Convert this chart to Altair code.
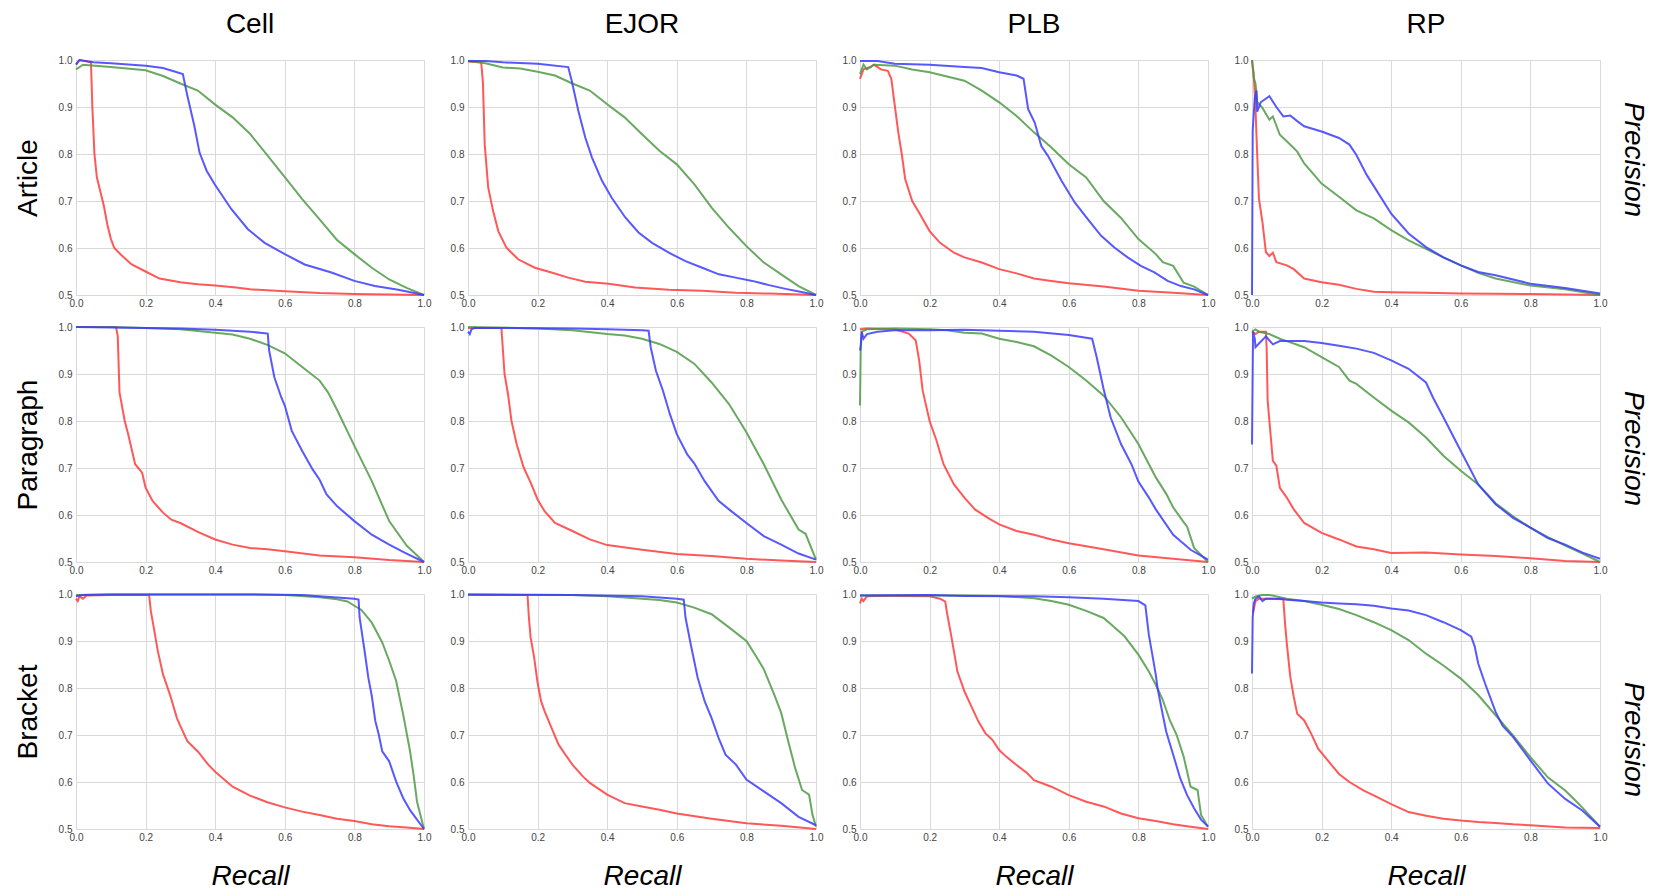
import altair as alt
import pandas as pd

# ---------------- data: (recall, precision) pairs ----------------
columns = ["Cell", "EJOR", "PLB", "RP"]
rows = ["Article", "Paragraph", "Bracket"]
series = ["red", "green", "blue"]
series_colors = ["#ff3b3b", "#4f9a45", "#3b3bff"]
x_ticks = [0.0, 0.2, 0.4, 0.6, 0.8, 1.0]
y_ticks = [0.5, 0.6, 0.7, 0.8, 0.9, 1.0]

# Article row
article_cell_red = [(0,0.99),(0.01,1.0),(0.043,0.995),(0.047,0.9),(0.053,0.8),(0.06,0.75),(0.07,0.72),(0.08,0.69),(0.09,0.65),(0.1,0.62),(0.11,0.6),(0.13,0.585),(0.16,0.565),(0.2,0.55),(0.24,0.535),(0.3,0.527),(0.35,0.523),(0.4,0.52),(0.46,0.516),(0.5,0.512),(0.6,0.508),(0.7,0.504),(0.8,0.502),(0.9,0.501),(1.0,0.5)]
article_cell_blue = [(0,0.99),(0.01,1.0),(0.05,0.995),(0.1,0.993),(0.2,0.988),(0.25,0.983),(0.307,0.97),(0.32,0.924),(0.34,0.86),(0.355,0.803),(0.375,0.765),(0.398,0.736),(0.446,0.683),(0.494,0.64),(0.542,0.611),(0.6,0.587),(0.657,0.565),(0.734,0.548),(0.8,0.53),(0.859,0.519),(0.926,0.511),(1.0,0.5)]
article_cell_green = [(0,0.98),(0.02,0.99),(0.1,0.985),(0.2,0.978),(0.25,0.966),(0.3,0.95),(0.35,0.935),(0.4,0.905),(0.45,0.878),(0.5,0.843),(0.55,0.797),(0.6,0.751),(0.65,0.704),(0.7,0.661),(0.75,0.617),(0.8,0.587),(0.85,0.558),(0.9,0.533),(0.95,0.515),(1.0,0.5)]

article_ejor_red = [(0,0.997),(0.038,0.995),(0.043,0.95),(0.048,0.821),(0.058,0.729),(0.072,0.679),(0.087,0.636),(0.11,0.601),(0.144,0.576),(0.192,0.558),(0.24,0.548),(0.288,0.537),(0.337,0.528),(0.404,0.524),(0.48,0.516),(0.577,0.511),(0.673,0.509),(0.769,0.505),(0.865,0.503),(1.0,0.5)]
article_ejor_blue = [(0,0.998),(0.05,0.998),(0.1,0.995),(0.2,0.992),(0.288,0.985),(0.298,0.956),(0.317,0.892),(0.337,0.835),(0.356,0.793),(0.385,0.743),(0.413,0.707),(0.452,0.665),(0.49,0.633),(0.529,0.611),(0.577,0.59),(0.625,0.572),(0.673,0.558),(0.721,0.544),(0.769,0.537),(0.817,0.53),(0.865,0.521),(0.913,0.513),(0.962,0.506),(1.0,0.5)]
article_ejor_green = [(0,0.998),(0.05,0.993),(0.1,0.984),(0.15,0.982),(0.2,0.975),(0.25,0.967),(0.3,0.95),(0.35,0.935),(0.4,0.906),(0.45,0.878),(0.5,0.842),(0.55,0.807),(0.6,0.778),(0.65,0.736),(0.7,0.686),(0.75,0.643),(0.8,0.604),(0.85,0.569),(0.9,0.544),(0.95,0.519),(1.0,0.5)]

article_plb_red = [(0,0.96),(0.01,0.98),(0.03,0.985),(0.04,0.99),(0.06,0.98),(0.08,0.977),(0.09,0.96),(0.1,0.903),(0.11,0.846),(0.12,0.8),(0.13,0.746),(0.15,0.7),(0.17,0.675),(0.2,0.636),(0.23,0.611),(0.27,0.59),(0.3,0.58),(0.35,0.569),(0.4,0.555),(0.45,0.546),(0.5,0.535),(0.55,0.53),(0.6,0.525),(0.7,0.518),(0.8,0.509),(0.9,0.505),(1.0,0.5)]
article_plb_blue = [(0,0.998),(0.05,0.998),(0.1,0.992),(0.2,0.99),(0.3,0.985),(0.35,0.983),(0.4,0.974),(0.45,0.967),(0.47,0.96),(0.483,0.896),(0.502,0.867),(0.521,0.817),(0.54,0.796),(0.579,0.743),(0.617,0.697),(0.655,0.661),(0.693,0.626),(0.731,0.601),(0.769,0.58),(0.807,0.562),(0.846,0.548),(0.884,0.53),(0.922,0.519),(0.96,0.512),(1.0,0.5)]
article_plb_green = [(0,0.97),(0.01,0.99),(0.02,0.98),(0.04,0.99),(0.1,0.988),(0.15,0.98),(0.2,0.974),(0.25,0.965),(0.3,0.956),(0.35,0.935),(0.4,0.91),(0.45,0.881),(0.5,0.846),(0.55,0.814),(0.6,0.778),(0.65,0.75),(0.7,0.7),(0.75,0.664),(0.8,0.619),(0.85,0.587),(0.87,0.57),(0.9,0.562),(0.93,0.526),(0.96,0.518),(1.0,0.5)]

article_rp_red = [(0,1.0),(0.005,0.97),(0.01,0.898),(0.015,0.798),(0.02,0.705),(0.03,0.655),(0.04,0.591),(0.05,0.583),(0.06,0.59),(0.07,0.57),(0.1,0.563),(0.12,0.555),(0.15,0.535),(0.2,0.527),(0.25,0.522),(0.3,0.513),(0.35,0.507),(0.4,0.506),(0.5,0.505),(0.6,0.503),(0.8,0.502),(1.0,0.5)]
article_rp_blue = [(0,0.5),(0.002,0.85),(0.008,0.92),(0.013,0.935),(0.015,0.89),(0.025,0.91),(0.05,0.923),(0.07,0.9),(0.09,0.88),(0.11,0.882),(0.13,0.87),(0.15,0.859),(0.2,0.848),(0.25,0.834),(0.28,0.82),(0.3,0.798),(0.33,0.755),(0.36,0.72),(0.4,0.673),(0.45,0.631),(0.5,0.602),(0.55,0.58),(0.6,0.563),(0.65,0.549),(0.7,0.542),(0.8,0.524),(0.9,0.515),(1.0,0.503)]
article_rp_green = [(0,1.0),(0.005,0.962),(0.01,0.95),(0.015,0.91),(0.03,0.898),(0.05,0.873),(0.06,0.88),(0.08,0.841),(0.1,0.827),(0.13,0.805),(0.15,0.78),(0.2,0.737),(0.25,0.709),(0.3,0.68),(0.35,0.663),(0.4,0.638),(0.45,0.616),(0.5,0.598),(0.55,0.58),(0.6,0.563),(0.65,0.547),(0.7,0.535),(0.8,0.52),(0.9,0.512),(1.0,0.5)]

# Paragraph row
paragraph_cell_red = [(0,1.0),(0.115,1.0),(0.12,0.98),(0.125,0.861),(0.14,0.8),(0.15,0.772),(0.17,0.708),(0.19,0.69),(0.2,0.658),(0.22,0.63),(0.25,0.605),(0.274,0.59),(0.3,0.583),(0.35,0.564),(0.4,0.548),(0.45,0.537),(0.5,0.53),(0.55,0.527),(0.6,0.523),(0.7,0.514),(0.8,0.51),(0.9,0.504),(1.0,0.5)]
paragraph_cell_blue = [(0,1.0),(0.2,0.998),(0.3,0.997),(0.4,0.994),(0.5,0.99),(0.551,0.986),(0.555,0.95),(0.57,0.893),(0.59,0.85),(0.6,0.833),(0.62,0.779),(0.65,0.736),(0.68,0.697),(0.7,0.675),(0.72,0.644),(0.75,0.619),(0.8,0.587),(0.85,0.558),(0.9,0.537),(0.95,0.518),(1.0,0.5)]
paragraph_cell_green = [(0,1.0),(0.1,1.0),(0.2,0.998),(0.3,0.995),(0.4,0.988),(0.45,0.984),(0.5,0.975),(0.55,0.962),(0.6,0.944),(0.65,0.915),(0.7,0.886),(0.725,0.86),(0.75,0.824),(0.8,0.747),(0.85,0.672),(0.9,0.587),(0.95,0.535),(1.0,0.5)]

paragraph_ejor_red = [(0,0.998),(0.096,0.998),(0.105,0.9),(0.115,0.857),(0.125,0.8),(0.14,0.75),(0.16,0.701),(0.18,0.669),(0.2,0.633),(0.22,0.608),(0.25,0.583),(0.3,0.566),(0.35,0.548),(0.4,0.536),(0.5,0.526),(0.6,0.517),(0.7,0.513),(0.8,0.507),(0.9,0.503),(1.0,0.5)]
paragraph_ejor_blue = [(0,0.99),(0.005,0.985),(0.01,0.995),(0.02,0.998),(0.1,0.998),(0.3,0.997),(0.4,0.995),(0.5,0.993),(0.519,0.992),(0.525,0.957),(0.54,0.907),(0.56,0.865),(0.58,0.815),(0.6,0.772),(0.63,0.729),(0.65,0.71),(0.68,0.672),(0.72,0.63),(0.75,0.612),(0.8,0.583),(0.85,0.555),(0.9,0.537),(0.95,0.518),(1.0,0.505)]
paragraph_ejor_green = [(0,1.0),(0.2,0.997),(0.3,0.993),(0.4,0.985),(0.45,0.982),(0.5,0.975),(0.55,0.964),(0.6,0.947),(0.65,0.922),(0.7,0.882),(0.75,0.836),(0.8,0.776),(0.85,0.708),(0.9,0.633),(0.95,0.569),(0.97,0.56),(1.0,0.505)]

paragraph_plb_red = [(0,0.995),(0.02,0.997),(0.1,0.995),(0.14,0.986),(0.16,0.972),(0.17,0.929),(0.18,0.865),(0.2,0.8),(0.22,0.758),(0.24,0.708),(0.27,0.665),(0.3,0.637),(0.33,0.612),(0.37,0.593),(0.4,0.58),(0.45,0.566),(0.5,0.558),(0.55,0.548),(0.6,0.54),(0.7,0.527),(0.8,0.514),(0.9,0.507),(1.0,0.5)]
paragraph_plb_blue = [(0,0.95),(0.002,0.96),(0.005,0.99),(0.01,0.975),(0.02,0.985),(0.05,0.99),(0.1,0.993),(0.2,0.993),(0.3,0.994),(0.4,0.992),(0.5,0.99),(0.6,0.983),(0.65,0.977),(0.667,0.975),(0.68,0.936),(0.7,0.868),(0.72,0.808),(0.75,0.751),(0.78,0.708),(0.8,0.671),(0.83,0.637),(0.85,0.612),(0.9,0.558),(0.95,0.526),(1.0,0.505)]
paragraph_plb_green = [(0,0.833),(0.002,0.95),(0.005,0.99),(0.02,0.995),(0.1,0.997),(0.2,0.995),(0.25,0.993),(0.3,0.988),(0.35,0.986),(0.4,0.975),(0.45,0.968),(0.5,0.959),(0.55,0.939),(0.6,0.915),(0.65,0.886),(0.7,0.854),(0.75,0.808),(0.8,0.751),(0.85,0.68),(0.88,0.645),(0.9,0.616),(0.93,0.585),(0.94,0.575),(0.96,0.53),(1.0,0.5)]

paragraph_rp_red = [(0,0.99),(0.01,0.985),(0.02,0.99),(0.04,0.99),(0.042,0.957),(0.045,0.843),(0.05,0.8),(0.06,0.715),(0.07,0.705),(0.08,0.658),(0.1,0.637),(0.12,0.612),(0.15,0.583),(0.2,0.562),(0.25,0.548),(0.3,0.533),(0.35,0.527),(0.4,0.519),(0.5,0.52),(0.6,0.516),(0.7,0.513),(0.8,0.508),(0.9,0.502),(1.0,0.5)]
paragraph_rp_blue = [(0,0.75),(0.003,0.99),(0.008,0.975),(0.01,0.957),(0.02,0.965),(0.04,0.98),(0.06,0.963),(0.08,0.97),(0.15,0.97),(0.2,0.966),(0.25,0.96),(0.3,0.954),(0.35,0.945),(0.4,0.929),(0.45,0.911),(0.5,0.882),(0.52,0.85),(0.55,0.808),(0.6,0.736),(0.65,0.665),(0.7,0.623),(0.75,0.594),(0.8,0.573),(0.85,0.551),(0.9,0.537),(0.95,0.52),(1.0,0.507)]
paragraph_rp_green = [(0,0.99),(0.01,0.995),(0.02,0.99),(0.05,0.985),(0.08,0.975),(0.1,0.97),(0.15,0.957),(0.2,0.936),(0.25,0.915),(0.28,0.886),(0.3,0.879),(0.35,0.85),(0.4,0.822),(0.45,0.797),(0.5,0.765),(0.55,0.726),(0.6,0.694),(0.65,0.665),(0.7,0.625),(0.75,0.597),(0.8,0.573),(0.85,0.553),(0.9,0.535),(0.95,0.518),(1.0,0.5)]

# Bracket row
bracket_cell_red = [(0,0.99),(0.005,0.985),(0.01,0.995),(0.02,0.99),(0.03,0.997),(0.1,0.998),(0.21,0.998),(0.215,0.964),(0.225,0.922),(0.235,0.879),(0.25,0.829),(0.27,0.786),(0.29,0.736),(0.3,0.719),(0.32,0.687),(0.35,0.665),(0.38,0.637),(0.4,0.622),(0.45,0.59),(0.5,0.571),(0.55,0.557),(0.6,0.546),(0.65,0.537),(0.7,0.53),(0.75,0.522),(0.8,0.517),(0.85,0.51),(0.9,0.506),(0.95,0.503),(1.0,0.5)]
bracket_cell_blue = [(0,0.995),(0.02,0.998),(0.1,0.999),(0.5,0.999),(0.65,0.998),(0.7,0.995),(0.8,0.99),(0.812,0.988),(0.815,0.95),(0.83,0.875),(0.84,0.822),(0.85,0.783),(0.86,0.73),(0.87,0.701),(0.88,0.665),(0.9,0.644),(0.92,0.601),(0.94,0.566),(0.96,0.54),(0.98,0.52),(1.0,0.5)]
bracket_cell_green = [(0,0.998),(0.1,0.999),(0.5,0.999),(0.6,0.998),(0.7,0.993),(0.75,0.989),(0.78,0.984),(0.8,0.975),(0.82,0.966),(0.85,0.939),(0.88,0.897),(0.9,0.858),(0.92,0.815),(0.94,0.744),(0.96,0.665),(0.97,0.615),(0.98,0.558),(1.0,0.5)]

bracket_ejor_red = [(0,0.998),(0.171,0.998),(0.175,0.95),(0.18,0.907),(0.19,0.865),(0.2,0.811),(0.21,0.772),(0.22,0.751),(0.24,0.715),(0.26,0.68),(0.28,0.658),(0.3,0.637),(0.33,0.612),(0.35,0.598),(0.4,0.573),(0.45,0.555),(0.5,0.548),(0.55,0.541),(0.6,0.533),(0.7,0.522),(0.8,0.512),(0.9,0.507),(1.0,0.5)]
bracket_ejor_blue = [(0,0.999),(0.3,0.998),(0.5,0.995),(0.6,0.99),(0.62,0.988),(0.625,0.95),(0.64,0.893),(0.66,0.822),(0.68,0.772),(0.7,0.736),(0.72,0.694),(0.74,0.658),(0.77,0.637),(0.8,0.605),(0.85,0.58),(0.9,0.555),(0.95,0.526),(1.0,0.508)]
bracket_ejor_green = [(0,0.999),(0.3,0.998),(0.4,0.995),(0.5,0.99),(0.55,0.987),(0.6,0.982),(0.65,0.971),(0.7,0.957),(0.75,0.929),(0.8,0.9),(0.83,0.865),(0.85,0.84),(0.88,0.786),(0.9,0.747),(0.92,0.687),(0.94,0.63),(0.96,0.583),(0.98,0.573),(0.99,0.53),(1.0,0.505)]

bracket_plb_red = [(0,0.98),(0.005,0.99),(0.01,0.985),(0.02,0.995),(0.05,0.996),(0.1,0.996),(0.2,0.995),(0.23,0.99),(0.245,0.984),(0.25,0.96),(0.26,0.92),(0.27,0.878),(0.28,0.835),(0.3,0.793),(0.32,0.761),(0.34,0.729),(0.36,0.704),(0.38,0.69),(0.4,0.668),(0.42,0.654),(0.45,0.636),(0.48,0.619),(0.5,0.604),(0.55,0.59),(0.6,0.572),(0.65,0.558),(0.7,0.548),(0.75,0.533),(0.8,0.523),(0.85,0.517),(0.9,0.51),(0.95,0.505),(1.0,0.5)]
bracket_plb_blue = [(0,0.997),(0.2,0.998),(0.3,0.996),(0.5,0.995),(0.6,0.993),(0.7,0.99),(0.8,0.985),(0.82,0.976),(0.83,0.913),(0.84,0.871),(0.85,0.828),(0.855,0.8),(0.87,0.743),(0.88,0.707),(0.9,0.658),(0.92,0.608),(0.94,0.572),(0.96,0.544),(0.98,0.52),(1.0,0.505)]
bracket_plb_green = [(0,0.997),(0.3,0.997),(0.4,0.996),(0.5,0.991),(0.55,0.985),(0.6,0.977),(0.65,0.964),(0.7,0.949),(0.73,0.93),(0.76,0.91),(0.8,0.871),(0.83,0.835),(0.85,0.807),(0.87,0.775),(0.89,0.732),(0.91,0.7),(0.93,0.654),(0.95,0.59),(0.97,0.583),(0.98,0.53),(1.0,0.505)]

bracket_rp_red = [(0.003,0.96),(0.01,0.985),(0.02,0.99),(0.05,0.99),(0.09,0.989),(0.095,0.937),(0.1,0.895),(0.11,0.824),(0.12,0.781),(0.13,0.745),(0.15,0.731),(0.17,0.703),(0.19,0.671),(0.21,0.653),(0.23,0.635),(0.25,0.617),(0.28,0.6),(0.32,0.582),(0.36,0.568),(0.4,0.553),(0.45,0.536),(0.5,0.528),(0.55,0.522),(0.6,0.518),(0.65,0.515),(0.7,0.513),(0.75,0.51),(0.8,0.508),(0.9,0.503),(1.0,0.502)]
bracket_rp_blue = [(0,0.831),(0.002,0.95),(0.005,0.98),(0.01,0.99),(0.02,0.995),(0.03,0.985),(0.04,0.99),(0.08,0.99),(0.1,0.988),(0.15,0.985),(0.2,0.982),(0.25,0.98),(0.3,0.978),(0.35,0.975),(0.4,0.969),(0.45,0.965),(0.5,0.955),(0.55,0.94),(0.6,0.923),(0.63,0.909),(0.64,0.888),(0.65,0.852),(0.67,0.809),(0.7,0.749),(0.72,0.72),(0.75,0.696),(0.8,0.646),(0.85,0.597),(0.9,0.564),(0.95,0.539),(1.0,0.505)]
bracket_rp_green = [(0,0.99),(0.01,0.995),(0.03,0.998),(0.05,0.998),(0.1,0.99),(0.15,0.985),(0.2,0.977),(0.25,0.968),(0.3,0.955),(0.35,0.94),(0.4,0.923),(0.45,0.902),(0.5,0.873),(0.55,0.848),(0.6,0.82),(0.65,0.785),(0.7,0.742),(0.75,0.699),(0.8,0.653),(0.85,0.61),(0.9,0.582),(0.93,0.56),(0.95,0.545),(1.0,0.505)]

curves = {
    ("Article", "Cell"): (article_cell_red, article_cell_green, article_cell_blue),
    ("Article", "EJOR"): (article_ejor_red, article_ejor_green, article_ejor_blue),
    ("Article", "PLB"): (article_plb_red, article_plb_green, article_plb_blue),
    ("Article", "RP"): (article_rp_red, article_rp_green, article_rp_blue),
    ("Paragraph", "Cell"): (paragraph_cell_red, paragraph_cell_green, paragraph_cell_blue),
    ("Paragraph", "EJOR"): (paragraph_ejor_red, paragraph_ejor_green, paragraph_ejor_blue),
    ("Paragraph", "PLB"): (paragraph_plb_red, paragraph_plb_green, paragraph_plb_blue),
    ("Paragraph", "RP"): (paragraph_rp_red, paragraph_rp_green, paragraph_rp_blue),
    ("Bracket", "Cell"): (bracket_cell_red, bracket_cell_green, bracket_cell_blue),
    ("Bracket", "EJOR"): (bracket_ejor_red, bracket_ejor_green, bracket_ejor_blue),
    ("Bracket", "PLB"): (bracket_plb_red, bracket_plb_green, bracket_plb_blue),
    ("Bracket", "RP"): (bracket_rp_red, bracket_rp_green, bracket_rp_blue),
}

FONT = "Liberation Sans"
PW, PH = 348, 235


def panel(ri, ci):
    r, c = rows[ri], columns[ci]
    recs = []
    for s, pts in zip(series, curves[(r, c)]):
        for i, (x, y) in enumerate(pts):
            recs.append({"series": s, "idx": i, "recall": x, "precision": y})
    df = pd.DataFrame(recs)

    x_axis = alt.Axis(values=x_ticks, format=".1f", ticks=False, domain=False,
                      labelPadding=3, labelFlush=False, labelFontSize=10,
                      labelColor="#444", labelFont=FONT, grid=True,
                      title="Recall" if ri == len(rows) - 1 else None,
                      titleFont=FONT, titleFontSize=28, titleFontStyle="italic",
                      titleFontWeight="normal", titleColor="black", titlePadding=20)
    y_axis = alt.Axis(values=y_ticks, format=".1f", ticks=False, domain=False,
                      labelPadding=4, labelFlush=False, labelFontSize=10,
                      labelColor="#444", labelFont=FONT, grid=True,
                      title=r if ci == 0 else None,
                      titleFont=FONT, titleFontSize=28, titleFontWeight="normal",
                      titleColor="black", titlePadding=16)

    ch = alt.Chart(df).mark_line(strokeWidth=2, opacity=0.85).encode(
        x=alt.X("recall:Q", scale=alt.Scale(domain=[0, 1], nice=False, zero=False), axis=x_axis),
        y=alt.Y("precision:Q", scale=alt.Scale(domain=[0.5, 1.0], nice=False, zero=False), axis=y_axis),
        color=alt.Color("series:N", scale=alt.Scale(domain=series, range=series_colors), legend=None),
        order=alt.Order("idx:Q"),
        detail="series:N",
    )
    if ri == 0:
        ch = ch.properties(width=PW, height=PH,
                           title=alt.TitleParams(text=c, font=FONT, fontSize=28,
                                                 fontWeight="normal", color="black",
                                                 offset=16))
    else:
        ch = ch.properties(width=PW, height=PH)
    return ch


row_charts = []
for ri in range(len(rows)):
    row_charts.append(
        alt.hconcat(*[panel(ri, ci) for ci in range(len(columns))], spacing=19,
                    title=alt.TitleParams(text="Precision", orient="right", anchor="middle",
                                          font=FONT, fontSize=28, fontStyle="italic",
                                          fontWeight="normal", color="black", offset=12))
    )

chart = alt.vconcat(*row_charts, spacing=14).properties(
    padding={"left": 6, "top": 3, "right": 3, "bottom": 0}
).configure_view(stroke=None).configure_axis(gridColor="#d9d9d9", gridWidth=1)

chart.save("out.html", embed_options={"renderer": "svg", "actions": False})
